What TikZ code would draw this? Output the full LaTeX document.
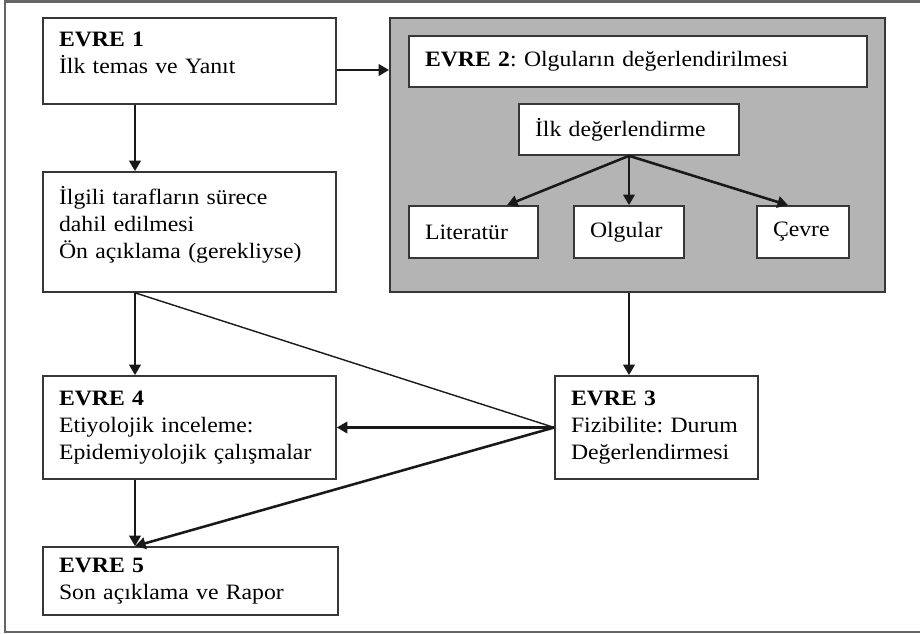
\documentclass[tikz,border=0pt]{standalone}
\usepackage{fontspec}
\setmainfont[FakeStretch=1.08]{Liberation Serif}
\frenchspacing
\usetikzlibrary{arrows.meta,positioning}
\definecolor{boxline}{RGB}{55,55,55}
\definecolor{panelgray}{RGB}{180,180,180}
\definecolor{arrowink}{RGB}{25,25,25}
\tikzset{
  stage/.style 2 args={%
    draw=boxline, fill=white, line width=.95pt,
    align=left, text width=#1, minimum height=#2,
    inner xsep=0.32cm, inner ysep=2pt,
    font=\fontsize{12.5}{15.3}\selectfont,
  },
  panel/.style={%
    draw=boxline, fill=panelgray,
    line width=1.1pt, inner sep=0pt
  },
  flow/.style={-{Triangle[width=6.5pt,length=6pt]}, draw=arrowink, line width=1.45pt},
  link/.style={draw=arrowink, line width=.8pt},
}

\begin{document}
\begin{tikzpicture}[x=0.02cm,y=-0.02cm]
\useasboundingbox (0,0) rectangle (920,634);
\draw[draw=gray!80!black, line width=1.2pt] (5,1.5) rectangle (940,632);

% gray panel with phase 2
\node[panel, minimum width=9.91cm, minimum height=5.48cm] (eval) at (637.75,155) {};
\node[stage={8.52cm}{1.02cm}] (e2) at (638,61.5) {\textbf{EVRE 2}: Olguların değerlendirilmesi};
\node[stage={3.76cm}{1.02cm}] (first) at (629,129.5) {İlk değerlendirme};
\node[stage={1.94cm}{1.04cm}] (lit) at (473.5,232) {Literatür};
\node[stage={1.56cm}{1.04cm}] (cases) at (629,232) {Olgular};
\node[stage={1.20cm}{1.04cm}] (env) at (803,232) {Çevre};

% left column and phase 3
\node[stage={5.22cm}{1.72cm}] (e1) at (189.5,61) {\textbf{EVRE 1}\\İlk temas ve Yanıt\\[-6pt]\mbox{}};
\node[stage={5.22cm}{2.40cm}] (parties) at (189.5,232) {İlgili tarafların sürece\\dahil edilmesi\\Ön açıklama (gerekliyse)\\[-4pt]\mbox{}};
\node[stage={5.22cm}{2.06cm}] (e4) at (189.5,427.5) {\textbf{EVRE 4}\\Etiyolojik inceleme:\\Epidemiyolojik çalışmalar};
\node[stage={5.26cm}{1.36cm}] (e5) at (190.5,581) {\textbf{EVRE 5}\\Son açıklama ve Rapor};
\node[stage={3.42cm}{2.06cm}] (e3) at (656.5,427.5) {\textbf{EVRE 3}\\Fizibilite: Durum\\Değerlendirmesi};

\coordinate (lx) at (135,0);
\coordinate (mx) at (629,0);
\coordinate (ty) at (0,70);

\draw[flow] (e1.east |- ty) -- (eval.west |- ty);
\draw[flow] (e1.south -| lx) -- (parties.north -| lx);
\draw[flow] (parties.south -| lx) -- (e4.north -| lx);
\draw[flow] (e4.south -| lx) -- (e5.north -| lx);
\draw[link] (parties.south -| lx) -- (e3.west);
\draw[flow] (e3.west) -- (e4.east);
\draw[flow] (e3.west) -- (e5.north -| lx);
\draw[flow] (eval.south -| mx) -- (e3.north -| mx);
% inside the panel
\draw[flow] (first.south) -- (lit.north -| 507,0);
\draw[flow] (first.south) -- (cases.north);
\draw[flow] (first.south) -- (env.north -| 788,0);
\end{tikzpicture}
\end{document}
